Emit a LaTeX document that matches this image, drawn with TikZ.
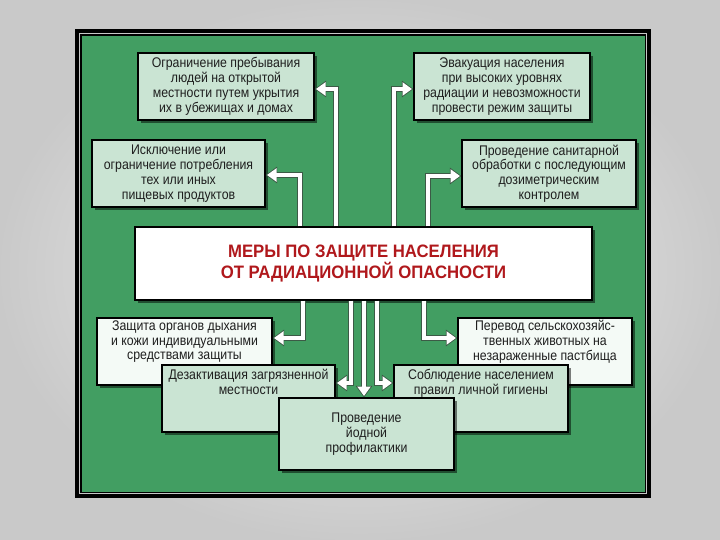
\documentclass[tikz,border=0pt]{standalone}
\usepackage{fontspec}
\setmainfont{Liberation Sans}
\newfontfamily\boxfam[FakeStretch=0.88]{Liberation Sans}
\newfontfamily\titlefam[FakeStretch=0.93]{Liberation Sans}
\usetikzlibrary{arrows.meta,shadows}
\definecolor{bggreen}{RGB}{66,158,98}
\definecolor{boxgreen}{RGB}{202,228,211}
\definecolor{boxwhite}{RGB}{244,250,246}
\definecolor{titlered}{RGB}{176,24,28}
\definecolor{textcol}{RGB}{30,30,30}
\definecolor{arrowedge}{RGB}{60,90,70}
\tikzset{
  box/.style={draw=black, line width=1.2pt, fill=boxgreen, inner sep=0pt,
    general shadow={fill=black, opacity=0.5, shadow xshift=3pt, shadow yshift=-3pt},
    align=center, font=\boxfam\fontsize{14}{14.8}\selectfont, text=textcol},
  wbox/.style={box, fill=boxwhite},
  txt/.style={inner sep=0pt, align=center, font=\boxfam\fontsize{14}{14.8}\selectfont, text=textcol},
  arrback/.style={draw=arrowedge, line width=6pt, -{Triangle[length=11.5pt,width=16pt]}},
  arrfront/.style={draw=white, line width=3.8pt, shorten >=1.4pt, -{Triangle[length=9.5pt,width=13pt]}}
}
\newcommand\myconn[1]{\draw[arrback] #1; \draw[arrfront] #1;}
\begin{document}
\begin{tikzpicture}[x=1pt,y=-1pt]
\useasboundingbox (0,0) rectangle (720,540);
\shade[inner color=gray!10, outer color=gray!42] (0,0) rectangle (720,540);
% frame
\fill[black] (75,29) rectangle (651,498);
\draw[gray!45, line width=0.8pt] (79.6,33.6) rectangle (646.4,493.4);
\filldraw[fill=bggreen, draw=black, line width=0.8pt] (81,35) rectangle (645,492);

% top boxes
\node[box, minimum width=176pt, minimum height=67pt] (b1) at (226,86.5)
  {Ограничение пребывания\\людей на открытой\\местности путем укрытия\\их в убежищах и домах};
\node[box, minimum width=176pt, minimum height=67pt] (b2) at (502,86.5)
  {Эвакуация населения\\при высоких уровнях\\радиации и невозможности\\провести режим защиты};
\node[box, minimum width=173pt, minimum height=67pt] (b3) at (178.5,173.5)
  {Исключение или\\ограничение потребления\\тех или иных\\пищевых продуктов};
\node[box, minimum width=174pt, minimum height=67pt] (b4) at (549,173.5)
  {Проведение санитарной\\обработки с последующим\\дозиметрическим\\контролем};

% centre
\node[box, fill=white, minimum width=457pt, minimum height=73pt,
  font=\titlefam\bfseries\fontsize{18}{19.5}\selectfont, text=titlered] (c) at (363.5,263.5)
  {МЕРЫ ПО ЗАЩИТЕ НАСЕЛЕНИЯ\\ОТ РАДИАЦИОННОЙ ОПАСНОСТИ};

% lower boxes
\node[wbox, minimum width=175pt, minimum height=67pt] (b6) at (184.5,351.5) {};
\node[txt, anchor=north, yshift=-3pt] (t6) at (b6.north)
  {Защита органов дыхания\\и кожи индивидуальными\\средствами защиты};
\node[wbox, minimum width=174pt, minimum height=67pt] (b7) at (545,351.5) {};
\node[txt, anchor=north, yshift=-3pt] (t7) at (b7.north)
  {Перевод сельскохозяйс-\\твенных животных на\\незараженные пастбища};
\node[box, minimum width=173pt, minimum height=67pt] (b8) at (248.5,398.5) {};
\node[txt, anchor=north, yshift=-5pt] (t8) at (b8.north)
  {Дезактивация загрязненной\\местности};
\node[box, minimum width=174pt, minimum height=67pt] (b9) at (481,398.5) {};
\node[txt, anchor=north, yshift=-5pt] (t9) at (b9.north)
  {Соблюдение населением\\правил личной гигиены};
\node[box, minimum width=175pt, minimum height=72pt] (b10) at (366.5,434)
  {Проведение\\йодной\\профилактики};

% connectors
\myconn{(c.north -| 336,0) |- (b1.east |- 0,89)}
\myconn{(c.north -| 394,0) |- (b2.west |- 0,89)}
\myconn{(c.north -| 300,0) |- (b3.east |- 0,175)}
\myconn{(c.north -| 428,0) |- (b4.west |- 0,176)}
\myconn{(c.south -| 303,0) |- (b6.east |- 0,338)}
\myconn{(c.south -| 424,0) |- (b7.west |- 0,338)}
\myconn{(c.south -| 351,0) |- (b8.east |- 0,383)}
\myconn{(c.south -| 364,0) -- (b10.north -| 364,0)}
\myconn{(c.south -| 377,0) |- (b9.west |- 0,383)}
\end{tikzpicture}
\end{document}
